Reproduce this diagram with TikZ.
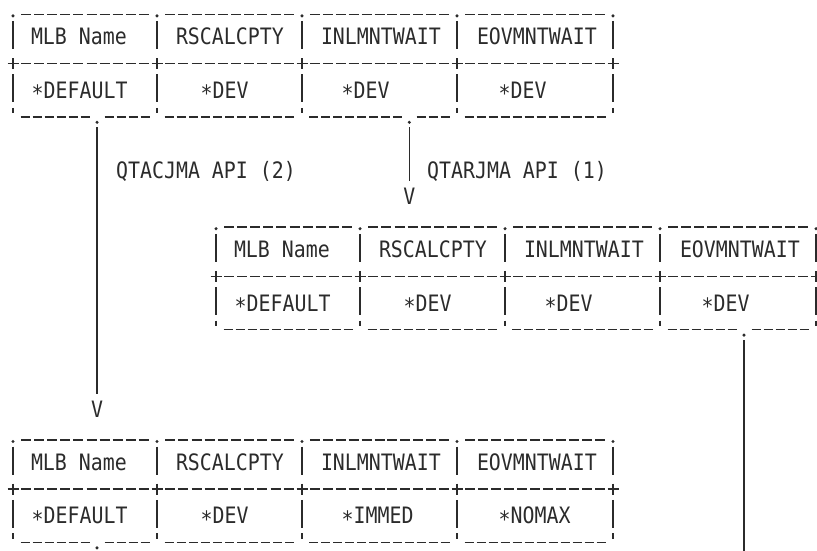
\documentclass[tikz,border=0pt]{standalone}
\usepackage{fontspec}
\usetikzlibrary{calc}
\newfontfamily\asciimono[FakeStretch=0.88]{DejaVu Sans Mono}
\definecolor{ink}{HTML}{2B2B2B}
\newcommand\lowstar{\raisebox{-3.5pt}{*}}
\tikzset{
  ln/.style={draw=ink, line width=1.5pt},
  txt/.style={font=\asciimono\fontsize{22.6pt}{27pt}\selectfont, text=ink, inner sep=0pt, anchor=base west},
  vtip/.style={font=\asciimono\fontsize{22.6pt}{27pt}\selectfont, text=ink, inner sep=0pt, anchor=base}
}
% evenly spaced dashes between xa and xb
\newcommand\dashseg[5]{% xa, xb, y, number of dashes, dash length
  \pgfmathsetmacro\dsstep{(#2-(#1))/(#4+1)}
  \foreach \k in {1,...,#4}{\draw[ln] ({#1+\k*\dsstep-#5/2},#3) -- ++(#5,0);}
}
% dashes with a dot (connector start) inside
\newcommand\dashdotseg[7]{% xa, xb, ydash, ydot, n before, n after, name
  \pgfmathsetmacro\dsstep{(#2-(#1))/(#5+#6+2)}
  \foreach \k in {1,...,#5}{\draw[ln] ({#1+\k*\dsstep-4.5},#3) -- ++(9,0);}
  \pgfmathsetmacro\dsdot{#1+(#5+1)*\dsstep}
  \coordinate (#7) at (\dsdot,#4);
  \fill[ink] (#7) circle[radius=1.7pt];
  \foreach \k in {1,...,#6}{\draw[ln] ({\dsdot+\k*\dsstep-4.5},#3) -- ++(9,0);}
}
% frame of one table: x offset, baseline of its top row
\newcommand\tableframe[2]{%
  \pgfmathsetmacro\tA{#2}
  \pgfmathsetmacro\tB{#2+26.6}
  \pgfmathsetmacro\tC{#2+2*26.6}
  \pgfmathsetmacro\tD{#2+3*26.6}
  \pgfmathsetmacro\tE{#2+4*26.6}
  \foreach \px in {13,157,302,457,613}{
    \fill[ink] ({\px+#1},\tA-2.5) circle[radius=1.7pt];
    \draw[ln] ({\px+#1},\tB-24) -- ({\px+#1},\tB+4);
    \draw[ln] ({\px+#1-5.5},\tC-8) -- ++(11,0);
    \draw[ln] ({\px+#1},\tC-13.5) -- ++(0,11);
    \draw[ln] ({\px+#1},\tD-24) -- ({\px+#1},\tD+4);
    \draw[ln] ({\px+#1},\tE-17) -- ({\px+#1},\tE-11.5);
  }
  \foreach \xa/\xb/\nd in {13/157/10,157/302/10,302/457/11,457/613/11}{
    \dashseg{\xa+#1}{\xb+#1}{\tA-4}{\nd}{10}
    \dashseg{\xa+#1}{\xb+#1}{\tC-8}{\nd}{10}
  }
}
\begin{document}
\begin{tikzpicture}[x=1pt,y=-1pt]
\useasboundingbox (0,0) rectangle (817,551);

% ---------- table 1 (top left)
\tableframe{0}{18.4}
\dashdotseg{13}{157}{116.8}{122.3}{6}{4}{d2}
\dashseg{157}{302}{116.8}{11}{9}
\dashdotseg{302}{457}{116.8}{122.3}{8}{3}{d1}
\dashseg{457}{613}{116.8}{12}{9}
\node[txt] (t1h1) at (30.8,45) {MLB Name};
\node[txt] (t1h2) at (175.8,45) {RSCALCPTY};
\node[txt] (t1h3) at (320.8,45) {INLMNTWAIT};
\node[txt] (t1h4) at (476.8,45) {EOVMNTWAIT};
\node[txt] (t1d1) at (31.5,98.2) {\lowstar DEFAULT};
\node[txt] (t1d2) at (200.5,98.2) {\lowstar DEV};
\node[txt] (t1d3) at (341.5,98.2) {\lowstar DEV};
\node[txt] (t1d4) at (498.5,98.2) {\lowstar DEV};

% ---------- table 2 (middle right)
\tableframe{203}{231.2}
\dashseg{216}{360}{329.6}{11}{9}
\dashseg{360}{505}{329.6}{11}{9}
\dashseg{505}{660}{329.6}{12}{9}
\dashdotseg{660}{816}{329.6}{335.1}{6}{5}{d3}
\node[txt] (t2h1) at (233.8,257.8) {MLB Name};
\node[txt] (t2h2) at (378.8,257.8) {RSCALCPTY};
\node[txt] (t2h3) at (523.8,257.8) {INLMNTWAIT};
\node[txt] (t2h4) at (679.8,257.8) {EOVMNTWAIT};
\node[txt] (t2d1) at (234.5,311) {\lowstar DEFAULT};
\node[txt] (t2d2) at (403.5,311) {\lowstar DEV};
\node[txt] (t2d3) at (544.5,311) {\lowstar DEV};
\node[txt] (t2d4) at (701.5,311) {\lowstar DEV};

% ---------- table 3 (bottom left)
\tableframe{0}{444}
\dashdotseg{13}{157}{542.4}{547.9}{6}{4}{d4}
\dashseg{157}{302}{542.4}{11}{9}
\dashseg{302}{457}{542.4}{12}{9}
\dashseg{457}{613}{542.4}{12}{9}
\node[txt] (t3h1) at (30.8,470.6) {MLB Name};
\node[txt] (t3h2) at (175.8,470.6) {RSCALCPTY};
\node[txt] (t3h3) at (320.8,470.6) {INLMNTWAIT};
\node[txt] (t3h4) at (476.8,470.6) {EOVMNTWAIT};
\node[txt] (t3d1) at (31.5,523.8) {\lowstar DEFAULT};
\node[txt] (t3d2) at (200.5,523.8) {\lowstar DEV};
\node[txt] (t3d3) at (341.5,523.8) {\lowstar IMMED};
\node[txt] (t3d4) at (498.5,523.8) {\lowstar NOMAX};

% ---------- connectors
\node[vtip] (v1) at (d1 |- 0,204.6) {V};
\node[vtip] (v2) at (d2 |- 0,417.4) {V};
\coordinate (c3end) at (d3 |- 0,553);
\draw[ln] ($(d1)+(0,5)$) -- ($(v1.north)+(0,-6.5)$);
\draw[ln] ($(d2)+(0,5)$) -- ($(v2.north)+(0,-6.5)$);
\draw[ln] ($(d3)+(0,5)$) -- (c3end);
\node[txt] (lab2) at (116,178) {QTACJMA API (2)};
\node[txt] (lab1) at (427,178) {QTARJMA API (1)};
\end{tikzpicture}
\end{document}
